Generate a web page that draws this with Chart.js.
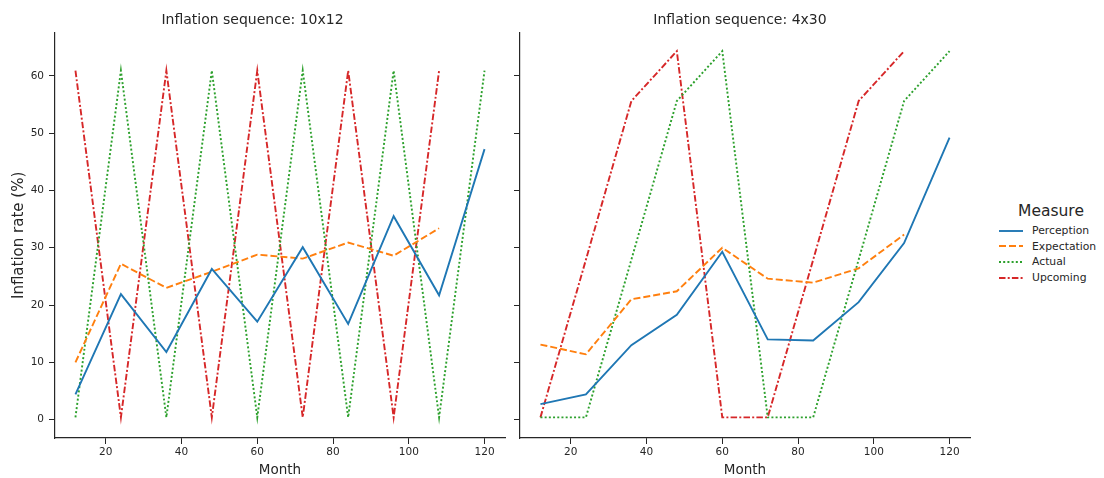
<!DOCTYPE html>
<html>
<head>
<meta charset="utf-8">
<script src="https://cdn.jsdelivr.net/npm/chart.js@4"></script>
<style>
  body { margin:0; background:#fff; font-family:"DejaVu Sans", sans-serif; }
  #wrap { position:relative; width:1104px; height:478px; }
  canvas { position:absolute; top:0; }
  #legend { position:absolute; left:998px; top:202px; color:#262626; }
  #legend .ttl { font-size:15.5px; text-align:center; width:106px; margin-bottom:3px; }
  #legend .row { display:flex; align-items:center; height:15.6px; font-size:10.8px; }
  #legend svg { margin-right:8px; }
</style>
</head>
<body>
<div id="wrap">
  <canvas id="left" width="510" height="478" style="left:0;"></canvas>
  <canvas id="right" width="465" height="478" style="left:510px;"></canvas>
  <div id="legend"></div>
</div>
<script>
/* ---- data ---- */
var months  = [12, 24, 36, 48, 60, 72, 84, 96, 108, 120];
var xTicks  = [20, 40, 60, 80, 100, 120];
var yTicks  = [0, 10, 20, 30, 40, 50, 60];

// 10x12 panel
var perc10 = [4.4, 21.9, 11.8, 26.3, 17.1, 30.1, 16.7, 35.5, 21.7, 47.2];
var expe10 = [10.0, 27.2, 23.0, 25.8, 28.8, 28.1, 30.9, 28.6, 33.4];
var actu10 = [0.4, 60.9, 0.4, 60.9, 0.4, 60.9, 0.4, 60.9, 0.4, 60.9];
var upco10 = [60.9, 0.4, 60.9, 0.4, 60.9, 0.4, 60.9, 0.4, 60.9];

// 4x30 panel
var perc4 = [2.7, 4.4, 13.0, 18.3, 29.3, 14.0, 13.8, 20.5, 30.8, 49.2];
var expe4 = [13.1, 11.4, 21.0, 22.4, 30.0, 24.6, 23.9, 26.4, 32.3];
var actu4 = [0.4, 0.4, 27.9, 55.6, 64.3, 0.4, 0.4, 27.9, 55.6, 64.3];
var upco4 = [0.4, 27.9, 55.6, 64.3, 0.4, 0.4, 27.9, 55.6, 64.3];

var SERIES = [
    { label: 'Perception',  color: '#1f77b4', dash: [] },
    { label: 'Expectation', color: '#ff7f0e', dash: [7, 3] },
    { label: 'Actual',      color: '#2ca02c', dash: [2, 2.2] },
    { label: 'Upcoming',    color: '#d62728', dash: [6.5, 2.2, 2, 2.2] }
];

var INK = '#262626';
var FONT = '"DejaVu Sans", sans-serif';
var LW = 1.9;

function pts(vals) {
    return vals.map(function(v, i) { return { x: months[i], y: v }; });
}

function makePanel(id, title, valueSets, isLeft) {
    var datasets = SERIES.map(function(s, i) {
        return {
            label: s.label,
            data: pts(valueSets[i]),
            borderColor: s.color,
            borderDash: s.dash,
            borderWidth: LW,
            borderCapStyle: 'butt',
            pointRadius: 0,
            tension: 0,
            fill: false
        };
    });

    return new Chart(document.getElementById(id), {
        type: 'line',
        data: { datasets: datasets },
        options: {
            responsive: false, animation: false,
            layout: { padding: { right: 5 } },
            plugins: {
                legend: { display: false },
                tooltip: { enabled: false },
                title: {
                    display: true, text: title, color: INK,
                    font: { family: FONT, size: 14, weight: 'normal' },
                    padding: { top: 12, bottom: 4 }
                }
            },
            scales: {
                x: {
                    type: 'linear', min: 6.6, max: 125.4,
                    afterBuildTicks: function(s) { s.ticks = xTicks.map(function(v) { return { value: v }; }); },
                    afterFit: function(s) { s.height = 40; },
                    border: { display: true, color: INK, width: 1.2 },
                    grid: { drawOnChartArea: false, drawTicks: true, tickLength: 6, color: INK },
                    ticks: { color: INK, font: { family: FONT, size: 10.5 }, padding: 2, maxRotation: 0 },
                    title: {
                        display: true, text: 'Month', color: INK,
                        font: { family: FONT, size: 13.5 }, padding: { top: 0, bottom: -1 }
                    }
                },
                y: {
                    type: 'linear', min: -3.2, max: 67.5,
                    afterBuildTicks: function(s) { s.ticks = yTicks.map(function(v) { return { value: v }; }); },
                    afterFit: function(s) { s.width = isLeft ? 55 : 10; },
                    border: { display: true, color: INK, width: 1.2 },
                    grid: { drawOnChartArea: false, drawTicks: true, tickLength: 6, color: INK },
                    ticks: { display: isLeft, color: INK, font: { family: FONT, size: 10.5 }, padding: 5 },
                    title: {
                        display: isLeft, text: 'Inflation rate (%)', color: INK,
                        font: { family: FONT, size: 15 }, padding: { top: 10, bottom: 0 }
                    }
                }
            }
        }
    });
}

makePanel('left',  'Inflation sequence: 10x12', [perc10, expe10, actu10, upco10], true);
makePanel('right', 'Inflation sequence: 4x30',  [perc4, expe4, actu4, upco4], false);

/* ---- legend ---- */
var legend = document.getElementById('legend');
legend.innerHTML = '<div class="ttl">Measure</div>' + SERIES.map(function(s) {
    return '<div class="row">' +
        '<svg width="26" height="6"><line x1="1" y1="3" x2="25" y2="3" stroke="' + s.color + '" stroke-width="' + LW + '"' +
        (s.dash.length ? ' stroke-dasharray="' + s.dash.join(',') + '"' : '') + '/></svg>' +
        '<span>' + s.label + '</span></div>';
}).join('');
</script>
</body>
</html>
